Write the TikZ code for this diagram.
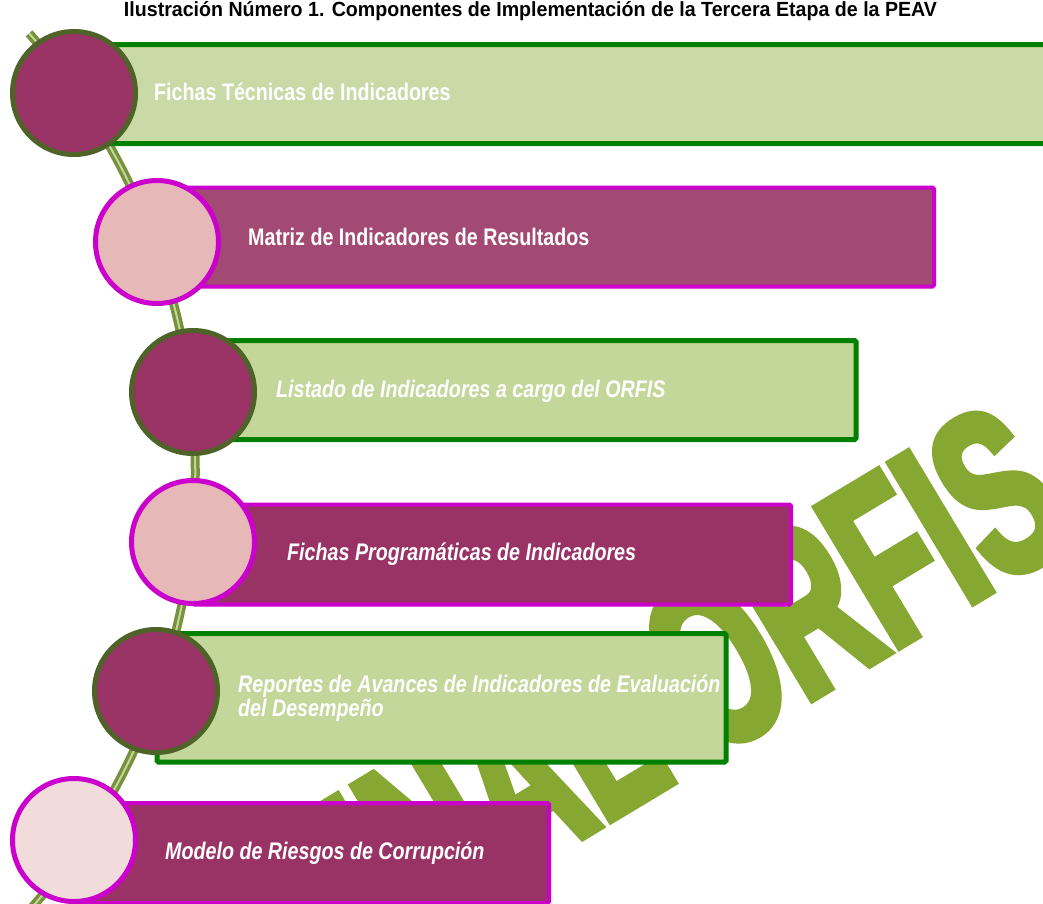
\documentclass[tikz,border=0pt]{standalone}
\usepackage{fontspec}
\usepackage{graphicx}
\setmainfont{Liberation Sans}
\newfontfamily\narrowfont[FakeStretch=0.82]{Liberation Sans}
\newfontfamily\wmfont[FakeStretch=0.6,FakeBold=3.5]{Liberation Sans Bold}
\usetikzlibrary{calc}
\definecolor{olivedark}{HTML}{4F6228}
\definecolor{spinecol}{HTML}{76923C}
\definecolor{spinehicol}{HTML}{C3D69B}
\definecolor{boxgreen}{HTML}{C4D79B}
\definecolor{boxgreenlt}{HTML}{C9DAA6}
\definecolor{bordergreen}{HTML}{008000}
\definecolor{maroon}{HTML}{993366}
\definecolor{maroonlt}{HTML}{A34A74}
\definecolor{magentab}{HTML}{CC00CC}
\definecolor{pinkc}{HTML}{E6B9B8}
\definecolor{pinklt}{HTML}{F2DCDB}
\definecolor{wmgreen}{HTML}{86A731}
\begin{document}
\begin{tikzpicture}[x=1pt,y=-1pt,
  gbox/.style={rectangle, draw=bordergreen, line width=5pt, fill=boxgreen, rounded corners=1.5pt, inner sep=0},
  mbox/.style={rectangle, draw=magentab, line width=4pt, fill=maroon, rounded corners=1.5pt, inner sep=0},
  dcirc/.style={circle, draw=olivedark, line width=5pt, fill=maroon, minimum size=123pt, inner sep=0},
  pcirc/.style={circle, draw=magentab, line width=5pt, fill=pinkc, minimum size=123pt, inner sep=0},
  lbl/.style={anchor=base west, inner sep=0, text=white, font=\narrowfont\bfseries\fontsize{24}{23.5}\selectfont},
  ilbl/.style={lbl, font=\narrowfont\bfseries\itshape\fontsize{24}{23.5}\selectfont},
  spine/.style={draw=spinecol, line width=9pt},
  spinehi/.style={draw=spinehicol, line width=2pt},
  wm/.style={inner sep=0, text=wmgreen, font=\wmfont\fontsize{235}{235}\selectfont}
]
\useasboundingbox (0,0) rectangle (1043,903);
\clip (0,0) rectangle (1043,903);
\fill[white] (0,0) rectangle (1043,903);

% title
\node[anchor=base, inner sep=0] (title) at (530.5,16)
  {\resizebox{813pt}{\height}{\narrowfont\bfseries\fontsize{20.5}{22}\selectfont Ilustración Número 1. Componentes de Implementación de la Tercera Etapa de la PEAV}};

% watermark
\node[wm, rotate=31, anchor=base west] (wm) at (321,994) {FINAL ORFIS};

% spine
\coordinate (ctr) at (-466.7,472);
\coordinate (spineTop) at ($(ctr)+(-41.5:662)$);
\draw[spine] (spineTop) arc[start angle=-41.5, end angle=43, radius=662];
\draw[spinehi] (spineTop) arc[start angle=-41.5, end angle=43, radius=662];

% row 1
\node[gbox, fill=boxgreenlt, minimum width=986pt, minimum height=99pt] (b1) at (567,94) {};
\node[dcirc] (c1) at (74,93) {};
% row 2
\node[mbox, fill=maroonlt, minimum width=777pt, minimum height=99pt] (b2) at (545.5,237) {};
\node[pcirc] (c2) at (157,242) {};
% row 3
\node[gbox, minimum width=663pt, minimum height=99pt] (b3) at (524.5,390) {};
\node[dcirc] (c3) at (193,392) {};
% row 4
\node[mbox, minimum width=598pt, minimum height=100pt] (b4) at (492,554.5) {};
\node[pcirc] (c4) at (193,542) {};
% row 5
\node[gbox, minimum width=569pt, minimum height=128.5pt] (b5) at (441.5,697.75) {};
\node[dcirc] (c5) at (156,691) {};
% row 6
\node[mbox, minimum width=475pt, minimum height=100pt] (b6) at (311.5,853) {};
\node[pcirc, fill=pinklt] (c6) at (74,840) {};

% labels
\node[lbl] (t1) at (154,100) {Fichas Técnicas de Indicadores};
\node[lbl] (t2) at (248,245) {Matriz de Indicadores de Resultados};
\node[ilbl] (t3) at (276,397) {Listado de Indicadores a cargo del ORFIS};
\node[ilbl] (t4) at (287,560) {Fichas Programáticas de Indicadores};
\node[ilbl] (t5a) at (238,692) {Reportes de Avances de Indicadores de Evaluación};
\node[ilbl] (t5b) at (238,716) {del Desempeño};
\node[ilbl] (t6) at (165,859) {Modelo de Riesgos de Corrupción};
\end{tikzpicture}
\end{document}
